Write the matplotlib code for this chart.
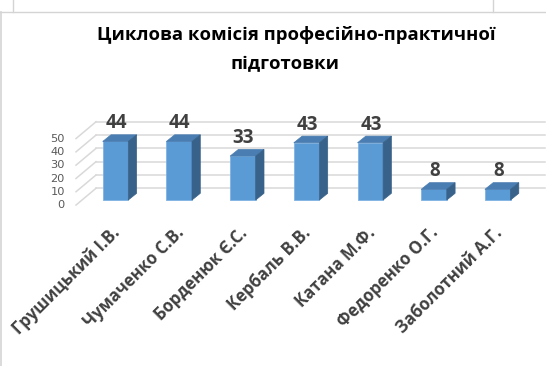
import matplotlib.pyplot as plt
from matplotlib.patches import Polygon
from matplotlib.lines import Line2D

# data
names = ['Грушицький І.В.', 'Чумаченко С.В.', 'Борденюк Є.С.', 'Кербаль В.В.',
         'Катана М.Ф.', 'Федоренко О.Г.', 'Заболотний А.Г.']
values = [44, 44, 33, 43, 43, 8, 8]
yticks = [0, 10, 20, 30, 40, 50]
title1 = 'Циклова комісія професійно-практичної'
title2 = 'підготовки'

W, H = 546, 366
# pixel scale of the chart
x0_px, step_px = 115.5, 63.7     # centre of first bar, spacing
y0_px, unit_px = 200.0, 1.33     # front baseline, px per value unit


def xd(px):
    return (px - x0_px) / step_px


def yd(py):
    return (y0_px - py) / unit_px


fig = plt.figure(figsize=(W / 100, H / 100), dpi=100)
ax = fig.add_axes([0, 0, 1, 1])
ax.set_xlim(xd(0), xd(W))
ax.set_ylim(yd(H), yd(0))
ax.set_axis_off()

# sheet cell lines
fig.add_artist(Line2D([0, 1], [1 - 11.5 / H] * 2, color='#d4d4d4', lw=1))
fig.add_artist(Line2D([1 / W] * 2, [0, 1 - 11.5 / H], color='#d4d4d4', lw=1.2))
for xc in (12.5, 492.5):
    fig.add_artist(Line2D([xc / W] * 2, [1 - 11.5 / H, 1], color='#d4d4d4', lw=1))

# back wall gridlines
wall_dy = 8.8
for t in yticks:
    ax.plot([xd(76), xd(96)], [t - 3.8, t + wall_dy], color='#d9d9d9', lw=1.1, zorder=1)
    ax.plot([xd(96), xd(545)], [t + wall_dy, t + wall_dy], color='#d9d9d9', lw=1.1, zorder=1)
    ax.text(xd(65), t - 4, str(t), ha='right', va='center', fontsize=8.2,
            color='#595959', family='DejaVu Sans')

# bars with pseudo-3D faces
bw = 25.6 / step_px
ddx, ddy = 8.3 / step_px, 6.7 / unit_px
idx = list(range(len(values)))
ax.bar(idx, values, width=bw, color='#5b9bd5', edgecolor='#7fb2e2', lw=0.6, zorder=3)
for i, v in zip(idx, values):
    l, r = i - bw / 2, i + bw / 2
    ax.add_patch(Polygon([(l, v), (r, v), (r + ddx, v + ddy), (l + ddx, v + ddy)],
                         closed=True, fc='#4a7db1', ec='#4a7db1', lw=0.5, zorder=3))
    ax.add_patch(Polygon([(r, 0), (r + ddx, ddy), (r + ddx, v + ddy), (r, v)],
                         closed=True, fc='#386289', ec='#386289', lw=0.5, zorder=3))
    ax.text(i + 0.01, v + 13 / unit_px, str(v), ha='center', va='baseline',
            fontsize=13.5, fontweight='bold', color='#404040', family='Open Sans')
    ax.text(i + 0.03, yd(230), names[i], rotation=45, rotation_mode='anchor',
            ha='right', va='center', fontsize=12, fontweight='bold',
            color='#404040', family='Open Sans')

fig.text(296 / W, 1 - 40 / H, title1, ha='center', va='baseline', fontsize=13.3,
         fontweight='bold', color='black', family='Open Sans')
fig.text(285 / W, 1 - 69 / H, title2, ha='center', va='baseline', fontsize=13.3,
         fontweight='bold', color='black', family='Open Sans')

fig.savefig('out.png', dpi=100)
